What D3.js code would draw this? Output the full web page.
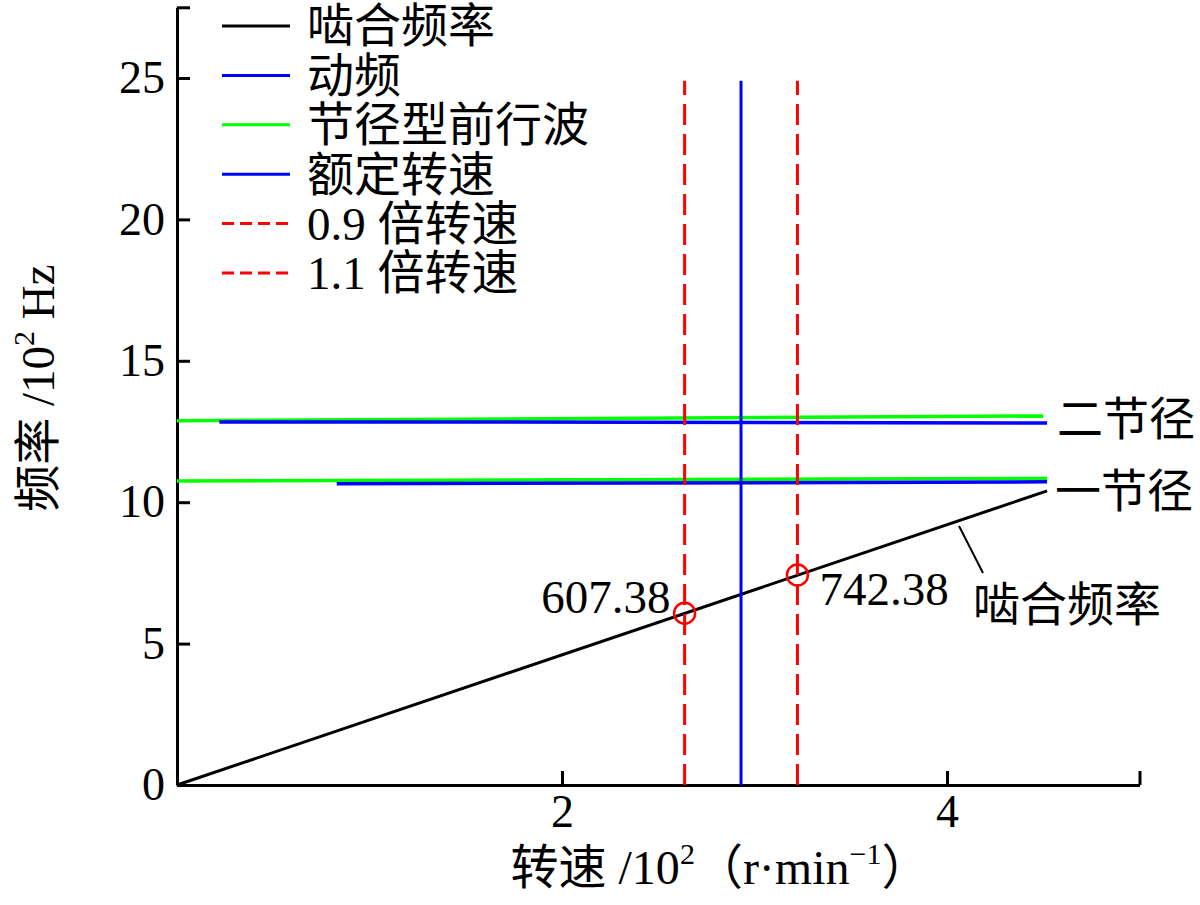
<!DOCTYPE html>
<html>
<head>
<meta charset="utf-8">
<style>
  body { margin: 0; background: #fff; }
  text { font-family: "Liberation Serif", "Noto Sans CJK SC", serif; fill: #000; }
  .domain, .tick line { stroke: #000; stroke-width: 3; }
</style>
</head>
<body>
<div id="chart"></div>
<script src="https://d3js.org/d3.v7.min.js"></script>
<script>
// data, x in 10^2 r/min, y in 10^2 Hz
var xTicks = [2, 4];
var yTicks = [0, 5, 10, 15, 20, 25];
var meshLine = [[0, 0], [4.52, 10.40]];
var waveTwo = [[0, 12.88], [4.50, 13.05]];   // green, 二节径
var waveOne = [[0, 10.75], [4.52, 10.84]];   // green, 一节径
var dynTwo = [[0.22, 12.84], [1.6, 12.84], [4.52, 12.80]];  // blue
var dynOne = [[0.83, 10.65], [4.52, 10.72]];  // blue
var ratedSpeed = 2.93;
var markSpeeds = [2.637, 3.223];
var markFreqs = [6.0738, 7.4238];
var markLabels = ["607.38", "742.38"];
var speedTop = 24.9;
var legendItems = [
  {name: "啮合频率", color: "#000", dash: null},
  {name: "动频", color: "#0000ff", dash: null},
  {name: "节径型前行波", color: "#00ff00", dash: null},
  {name: "额定转速", color: "#0000ff", dash: null},
  {name: "0.9 倍转速", color: "#ff0000", dash: "12,6"},
  {name: "1.1 倍转速", color: "#ff0000", dash: "12,6"}
];

var width = 1200, height = 905;
var svg = d3.select("#chart").append("svg")
  .attr("width", width).attr("height", height);

var x = d3.scaleLinear().domain([0, 5]).range([177, 1139.5]);
var y = d3.scaleLinear().domain([0, 27.5]).range([785, 7.3]);

var line = d3.line()
  .x(function(d) { return x(d[0]); })
  .y(function(d) { return y(d[1]); });

// axes (ticks point inward, like matlab)
svg.append("g")
  .attr("transform", "translate(0," + y(0) + ")")
  .call(d3.axisBottom(x).tickValues(xTicks.concat([5])).tickSizeInner(-14).tickSizeOuter(0)
    .tickFormat(function(d) { return d === 5 ? "" : d; }))
  .call(function(g) {
    g.selectAll(".tick text").attr("y", 9).attr("font-size", 46);
  });

svg.append("g")
  .attr("transform", "translate(" + x(0) + ",0)")
  .call(d3.axisLeft(y).tickValues(yTicks.concat([27.5])).tickSizeInner(-13).tickSizeOuter(0)
    .tickFormat(function(d) { return d === 27.5 ? "" : d; }))
  .call(function(g) {
    g.selectAll(".tick text").attr("x", -12).attr("font-size", 46);
  });
svg.selectAll("g text").attr("font-family", null);

// horizontal lines
[[waveTwo, "#00ff00"], [waveOne, "#00ff00"], [dynTwo, "#0000ff"], [dynOne, "#0000ff"]]
  .forEach(function(s) {
    svg.append("path").attr("d", line(s[0]))
      .attr("fill", "none").attr("stroke", s[1]).attr("stroke-width", 3.5);
  });

// meshing frequency
svg.append("path").attr("d", line(meshLine))
  .attr("fill", "none").attr("stroke", "#000").attr("stroke-width", 3);

// speed lines
markSpeeds.forEach(function(s) {
  svg.append("path").attr("d", line([[s, 0], [s, speedTop]]))
    .attr("fill", "none").attr("stroke", "#ff0000").attr("stroke-width", 3)
    .attr("stroke-dasharray", "21,9");
});
svg.append("path").attr("d", line([[ratedSpeed, 0], [ratedSpeed, speedTop]]))
  .attr("fill", "none").attr("stroke", "#0000ff").attr("stroke-width", 3);

// marks
markSpeeds.forEach(function(s, i) {
  svg.append("circle").attr("cx", x(s)).attr("cy", y(markFreqs[i])).attr("r", 10.5)
    .attr("fill", "none").attr("stroke", "#ff0000").attr("stroke-width", 2.5);
  svg.append("text")
    .attr("x", i === 0 ? x(s) - 14 : x(s) + 22)
    .attr("y", i === 0 ? y(markFreqs[i]) : y(markFreqs[i]) + 30)
    .attr("text-anchor", i === 0 ? "end" : "start")
    .attr("font-size", 47)
    .text(markLabels[i]);
});

// annotations on right
svg.append("text").attr("x", 1057).attr("y", y(12.95)).attr("dy", "0.35em")
  .attr("font-size", 46).text("二节径");
svg.append("text").attr("x", 1055).attr("y", y(10.4)).attr("dy", "0.35em")
  .attr("font-size", 46).text("一节径");
svg.append("line")
  .attr("x1", 959).attr("y1", 526).attr("x2", 983).attr("y2", 573)
  .attr("stroke", "#000").attr("stroke-width", 2);
svg.append("text").attr("x", 973).attr("y", 605).attr("dy", "0.35em")
  .attr("font-size", 47).text("啮合频率");

// legend
var legend = svg.append("g").attr("transform", "translate(222,26)");
legendItems.forEach(function(d, i) {
  var g = legend.append("g").attr("transform", "translate(0," + (i * 49.4) + ")");
  g.append("line").attr("x1", 0).attr("x2", 68).attr("y1", 0).attr("y2", 0)
    .attr("stroke", d.color).attr("stroke-width", 3)
    .attr("stroke-dasharray", d.dash);
  g.append("text").attr("x", 85).attr("dy", "0.35em")
    .attr("font-size", 47).text(d.name);
});

// axis titles
var xt = svg.append("text").attr("x", 720).attr("y", 884)
  .attr("text-anchor", "middle").attr("font-size", 48);
xt.append("tspan").text("转速 /10");
xt.append("tspan").attr("font-size", 30).attr("dy", -20).text("2");
xt.append("tspan").attr("dy", 20).text("（r·min");
xt.append("tspan").attr("font-size", 30).attr("dy", -20).text("−1");
xt.append("tspan").attr("dy", 20).text("）");

var yt = svg.append("text")
  .attr("transform", "translate(54,388) rotate(-90)")
  .attr("text-anchor", "middle").attr("font-size", 47);
yt.append("tspan").text("频率 /10");
yt.append("tspan").attr("font-size", 30).attr("dy", -20).text("2");
yt.append("tspan").attr("dy", 20).text(" Hz");
</script>
</body>
</html>
